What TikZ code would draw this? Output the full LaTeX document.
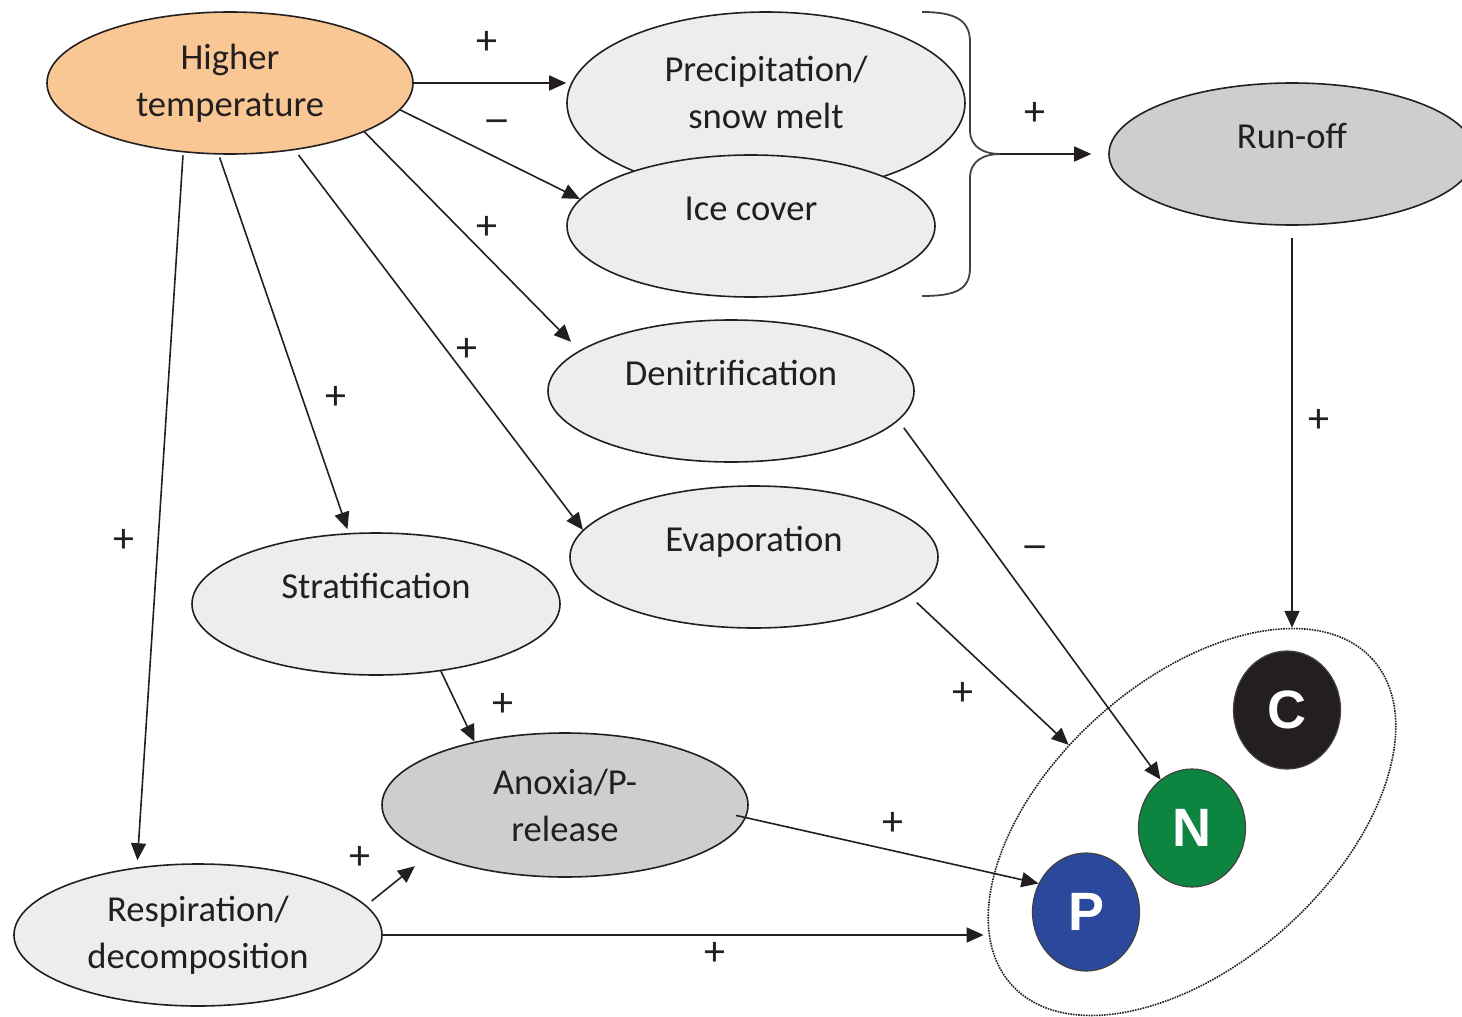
\documentclass[tikz,border=0pt]{standalone}
\usepackage{fontspec}
\setmainfont{Carlito}
\newfontfamily\elemfont{Liberation Sans}
\usetikzlibrary{arrows.meta,shapes.geometric}

\definecolor{ink}{HTML}{231F20}
\definecolor{warm}{HTML}{F9C794}
\definecolor{pale}{HTML}{EDEDED}
\definecolor{mid}{HTML}{CDCED0}
\definecolor{cblack}{HTML}{231F20}
\definecolor{ngreen}{HTML}{0D8540}
\definecolor{pblue}{HTML}{2B489C}

\newcommand{\negsign}{\scalebox{1.3}[1]{−}}

\begin{document}
\begin{tikzpicture}[x=0.5pt,y=-0.5pt,
  proc/.style={ellipse, draw=ink, line width=0.8pt, fill=pale, inner sep=0pt,
    text=ink, font=\fontsize{18.3}{23.5}\selectfont},
  raised/.style={text height=12.5pt, text depth=18.5pt},
  elem/.style={ellipse, draw=ink!85, line width=0.6pt, minimum width=53.5pt,
    minimum height=59pt, inner sep=0pt, text=white,
    font=\elemfont\bfseries\fontsize{27}{27}\selectfont},
  link/.style={draw=ink, line width=0.8pt, -{Triangle[length=8.5pt,width=7.5pt]}},
  sign/.style={inner sep=0pt, text=ink, font=\fontsize{21}{22}\selectfont},
]
\useasboundingbox (0,0) rectangle (1462,1017);
\clip (0,0) rectangle (1462,1017);

% process ellipses
\node[proc, fill=warm, align=center, minimum width=183pt, minimum height=71pt]
  (ht) at (230,83) {Higher\\temperature};
\node[proc, minimum width=199pt, minimum height=91pt,
  label={[name=preT, text=ink, font=\fontsize{18.3}{23.5}\selectfont,
          align=center, yshift=5.5pt]center:{Precipitation/\\snow melt}}]
  (pre) at (766,103) {};
\node[proc, raised, minimum width=184pt, minimum height=71pt] (ice) at (751,226) {Ice cover};
\node[proc, raised, fill=mid, minimum width=183pt, minimum height=71pt] (run) at (1292,154) {Run-off};
\node[proc, raised, minimum width=183pt, minimum height=71pt] (den) at (731,391) {Denitrification};
\node[proc, raised, minimum width=184pt, minimum height=71pt] (eva) at (754,557) {Evaporation};
\node[proc, raised, minimum width=184pt, minimum height=71pt] (str) at (376,604) {Stratification};
\node[proc, fill=mid, align=center, minimum width=183pt, minimum height=72pt]
  (ano) at (565,805) {Anoxia/P-\\release};
\node[proc, align=center, minimum width=184pt, minimum height=71pt]
  (res) at (198,935) {Respiration/\\decomposition};

% nutrient group
\node[ellipse, draw=ink, line width=0.8pt, dash pattern=on 0.8pt off 0.5pt,
  rotate=42, minimum width=243pt, minimum height=141pt, inner sep=0pt]
  (grp) at (1192,822) {};
\node[elem, fill=cblack] (c) at (1287,710) {C};
\node[elem, fill=ngreen] (n) at (1192,828) {N};
\node[elem, fill=pblue] (p) at (1086,912) {P};

% brace joining precipitation and ice cover
\coordinate (bt) at (1000,154);
\draw[draw=ink!85, line width=0.9pt]
  (922,12) .. controls (955,12) and (970,20) .. (970,42) -- (970,130)
  .. controls (970,148) and (985,154) .. (bt)
  .. controls (985,154) and (970,160) .. (970,178) -- (970,268)
  .. controls (970,290) and (955,296) .. (922,296);

% connectors
\draw[link] (ht.east) -- (ht.east -| pre.west);
\draw[link] (ht.-9) -- (ice.171);
\draw[link, shorten >=6pt] (ht.-20) -- (den.165);
\draw[link, shorten <=3pt] (ht.-46) -- (eva.171);
\draw[link, shorten <=1.5pt, shorten >=2pt] (ht.-99) -- (str.111);
\draw[link, shorten <=1.5pt, shorten >=3.5pt] (ht.-124) -- (res.132);
\draw[link] (bt) -- ([xshift=-8.5pt]run.west);
\draw[link, shorten <=6pt] (run.south) -- (run.south |- grp.21);
\draw[link, shorten <=4.5pt] (den.-10) -- (n.123);
\draw[link, shorten <=5pt] (eva.-14) -- (grp.106);
\draw[link] (str.-46) -- (ano.145);
\draw[link, shorten <=-5pt] (ano.-4) -- (p.149);
\draw[link, shorten <=3.5pt, shorten >=9.5pt] (res.10) -- (ano.-160);
\draw[link, shorten >=2.5pt] (res.east) -- (res.east -| grp.167);

% signs
\node[sign] (s1) at (487,43) {+};
\node[sign] (s2) at (497,127) {\negsign};
\node[sign] (s3) at (487,228) {+};
\node[sign] (s4) at (467,350) {+};
\node[sign] (s5) at (336,398) {+};
\node[sign] (s6) at (124,541) {+};
\node[sign] (s7) at (1035,114) {+};
\node[sign] (s8) at (1319,421) {+};
\node[sign] (s9) at (1035,553) {\negsign};
\node[sign] (s10) at (963,694) {+};
\node[sign] (s11) at (503,705) {+};
\node[sign] (s12) at (893,824) {+};
\node[sign] (s13) at (360,858) {+};
\node[sign] (s14) at (715,954) {+};
\end{tikzpicture}
\end{document}
